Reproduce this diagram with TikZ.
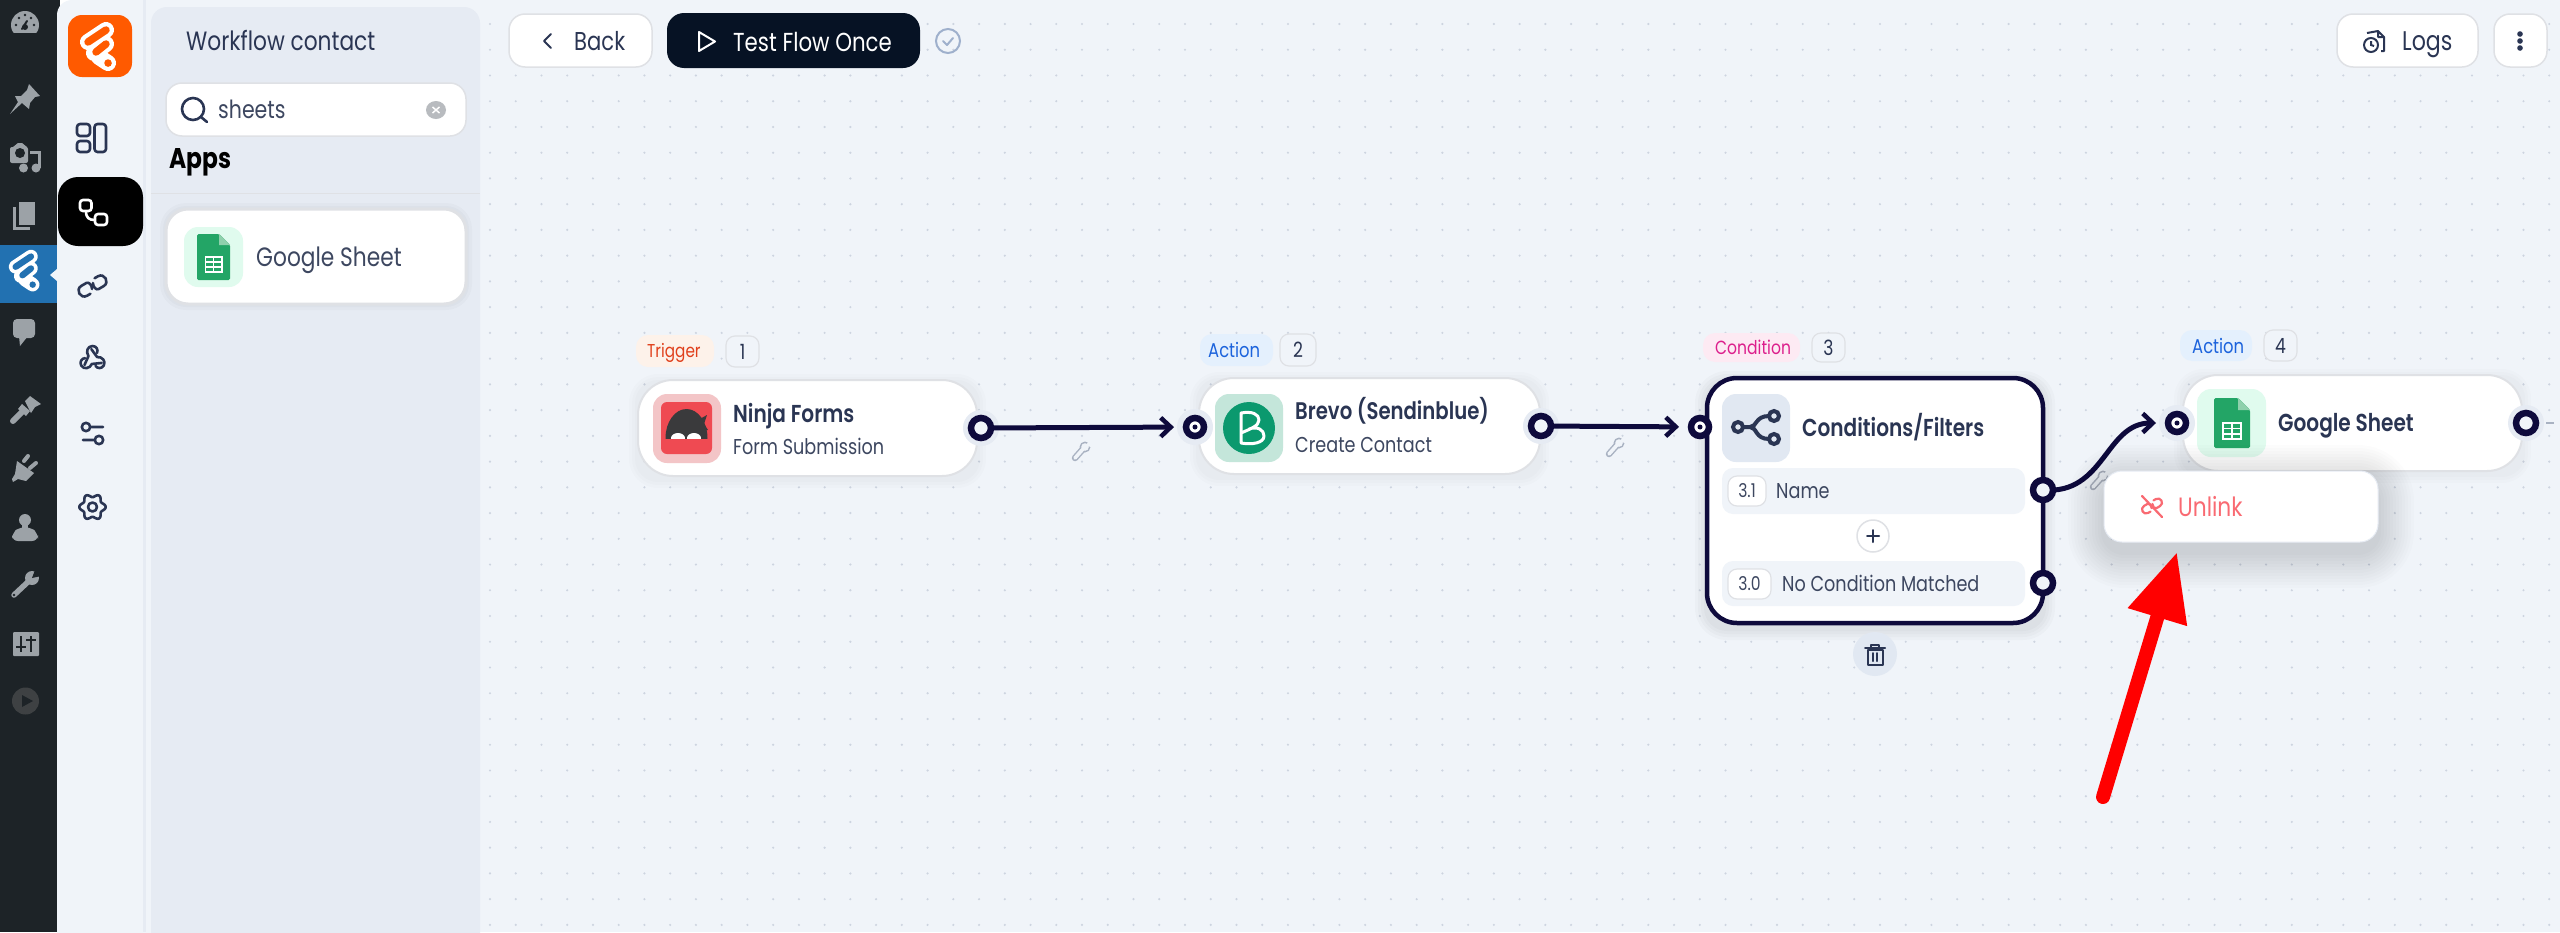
\documentclass[tikz,border=0pt]{standalone}
\usepackage{fontspec}
\setmainfont[FakeStretch=0.82]{Poppins}
\newfontfamily\semif[FakeStretch=0.82]{Poppins SemiBold}
\usetikzlibrary{arrows.meta,calc}
\definecolor{canvasbg}{HTML}{F0F4F9}
\definecolor{panelbg}{HTML}{E6EBF3}
\definecolor{sidedark}{HTML}{1D2327}
\definecolor{sideblue}{HTML}{2271B1}
\definecolor{sidegray}{HTML}{9CA2A7}
\definecolor{inkc}{HTML}{2A3553}
\definecolor{subc}{HTML}{3D4760}
\definecolor{edgec}{HTML}{0E0A3C}
\definecolor{borderc}{HTML}{DFE1E5}
\definecolor{dotc}{HTML}{CDD4E0}
\definecolor{orangec}{HTML}{FF5A00}
\definecolor{btnnavy}{HTML}{061224}
\definecolor{mintbg}{HTML}{E0FBEE}
\definecolor{sheetg}{HTML}{23A566}
\definecolor{sheetf}{HTML}{8FD0AC}
\definecolor{iconbg}{HTML}{E1E8F2}
\definecolor{unlinkc}{HTML}{F96A72}
\definecolor{tbg}{HTML}{FDF2EA}
\definecolor{tfg}{HTML}{E0401C}
\definecolor{abg}{HTML}{E4F0FD}
\definecolor{afg}{HTML}{1C63DC}
\definecolor{cbg}{HTML}{FDEAF3}
\definecolor{cfg}{HTML}{DC1F8C}
\definecolor{wrenchc}{HTML}{A9B2C2}
\definecolor{brevog}{HTML}{0B996E}
\definecolor{brevob}{HTML}{C4E6DA}
\definecolor{ninjab}{HTML}{F3C5C7}
\definecolor{ninjar}{HTML}{EF4A52}
\definecolor{ninjak}{HTML}{3A3A3C}
\definecolor{checkc}{HTML}{9FB0CC}
\tikzset{
  cardbox/.style={draw=borderc,line width=2pt,fill=white,rounded corners=35pt},
  selbox/.style={draw=edgec,line width=4.5pt,fill=white,rounded corners=30pt},
  btnbox/.style={draw=borderc,line width=1.5pt,fill=white,rounded corners=16pt},
  badgebox/.style={fill=#1,rounded corners=12pt},
  numbox/.style={draw=borderc,line width=1.2pt,fill=#1,rounded corners=9pt},
  tilebox/.style={fill=#1,rounded corners=14pt},
  rowbox/.style={fill=canvasbg,rounded corners=11pt},
  portout/.style={circle,draw=edgec,line width=6.5pt,fill=#1,minimum size=20pt,inner sep=0pt,outer sep=0pt},
  portin/.style={circle,draw=edgec,line width=6.5pt,fill=white,minimum size=18pt,inner sep=0pt,outer sep=0pt},
  halo/.style={circle,fill=panelbg,minimum size=36pt,inner sep=0pt,outer sep=0pt},
  edge/.style={draw=edgec,line width=5pt,line join=round,shorten >=21pt,-{Straight Barb[length=10pt,width=19pt,line width=4.5pt]}},
  icon/.style={draw=inkc,line width=2.6pt,line cap=round,line join=round},
  sidefill/.style={fill=sidegray},
}
\newcommand{\bx}[6]{\node[#6,minimum width={(#4-#2)*1pt},minimum height={(#5-#3)*1pt},inner sep=0pt,outer sep=0pt] (#1) at ({(#2+#4)/2},{(#3+#5)/2}) {};}
\newcommand{\tx}[6]{\node[anchor=base west,inner sep=0pt,text=#5,font=\fontsize{#4}{#4}\selectfont] (#1) at (#2,{#3+0.35*#4}) {#6};}
\newcommand{\softshadow}[7]{\foreach \i in {1,...,#6}{\fill[black,opacity=#7,rounded corners={(20+3*\i)*1pt}] ({#1-3*\i},{#2-3*\i+#5}) rectangle ({#3+3*\i},{#4+3*\i+#5});}}
\newcommand{\flogo}[4]{\begin{scope}[shift={(#1,#2)}]
  \draw[white,line cap=round,line width={16*#3 pt}] ({-11*#3},{-5*#3}) -- ({7*#3},{-17*#3}) ({-5*#3},{6*#3}) -- ({7*#3},{-3*#3}) ({0*#3},{10*#3}) -- ({9*#3},{16*#3});
  \draw[#4,line cap=round,line width={7.5*#3 pt}] ({-11*#3},{-5*#3}) -- ({7*#3},{-17*#3}) ({-3*#3},{5*#3}) -- ({7*#3},{-3*#3}) ({9*#3},{16*#3}) -- ({9.1*#3},{16.1*#3});
\end{scope}}
\newcommand{\sheeticon}[3]{\begin{scope}[shift={(#1,#2)},x=#3pt,y=-#3pt]
  \fill[sheetg,rounded corners=1.5pt] (0,0) -- (24,0) -- (36,12) -- (36,50) -- (0,50) -- cycle;
  \fill[sheetf] (24,0) -- (36,12) -- (24,12) -- cycle;
  \draw[white,line width={1.7*#3 pt}] (9,25) rectangle (27,41) (9,30.5) -- (27,30.5) (9,35.8) -- (27,35.8) (18,25) -- (18,41);
\end{scope}}
\newcommand{\wrenchicon}[2]{\begin{scope}[shift={(#1,#2)}]
  \draw[wrenchc,line width=6.5pt,line cap=round] (-6,7) -- (2,-2);
  \fill[wrenchc] (4,-4) circle[radius=5.5pt];
  \draw[canvasbg,line width=3.6pt,line cap=round] (-6,7) -- (2,-2);
  \fill[canvasbg] (4,-4) circle[radius=3.8pt];
  \fill[canvasbg] (4,-5) -- (9,-11) -- (11,-4) -- cycle;
\end{scope}}
% chain link, #1 #2 centre, #3 colour, #4 line width, #5 scale
\newcommand{\chain}[5]{\begin{scope}[shift={(#1,#2)},rotate=30,scale=#5]
  \foreach \a in {0,180}{\draw[#3,line width=#4pt,line cap=round,line join=round,rotate=\a] (-2,2.5) .. controls (0,-1) and (-1,-6) .. (-4,-6) -- (-10,-6) .. controls (-18,-6) and (-18,6) .. (-10,6) -- (-6,6);}
\end{scope}}
\begin{document}
\begin{tikzpicture}[x=1pt,y=-1pt]
\useasboundingbox (0,0) rectangle (2560,932);
% backgrounds
\fill[sidedark] (0,0) rectangle (60,932);
\fill[canvasbg,rounded corners=15pt] (57,0) rectangle (300,960);
\fill[canvasbg] (143,0) rectangle (2560,932);
\foreach \k in {0,...,80}{\foreach \j in {0,...,35}{\fill[dotc] ({490+25.74*\k},{24+25.74*\j}) circle[radius=1.2pt];}}
\fill[panelbg] (143,0) rectangle (146,932);
\fill[panelbg,rounded corners=16pt] (151,7) rectangle (480,960);
\draw[borderc,line width=1pt] (151,193) -- (480,193);
% wp sidebar
\fill[sideblue] (0,245) rectangle (57,303);
\fill[canvasbg] (50,275) -- (57,269) -- (57,281) -- cycle;
% gauge
\begin{scope}\clip (9,8) rectangle (41,32);
\fill[sidegray] (25,25) circle[radius=14pt];\end{scope}
\draw[sidedark,line width=2pt,line cap=round] (22,29) -- (27,21);
\fill[sidedark] (25,27) circle[radius=3pt];
\foreach \p in {(16,25),(19,18),(25,15),(31,18),(34,25)}{\fill[sidedark] \p circle[radius=1.3pt];}
% pin
\fill[sidegray] (29,84) -- (40,96) -- (35,97) -- (30,103) -- (29,109) -- (22,103) -- (10,114) -- (18,102) -- (15,96) -- (21,96) -- (27,90) -- cycle;
% media
\fill[sidegray,rounded corners=2pt] (10,147) -- (15,147) -- (16,143) -- (24,143) -- (25,147) -- (28,147) -- (28,163) -- (10,163) -- cycle;
\fill[sidedark] (20,153) circle[radius=5pt];
\fill[sidegray] (23.5,168) circle[radius=4.5pt] (36,168) circle[radius=4.5pt];
\fill[sidegray] (38,151) rectangle (40.5,168);
\fill[sidegray] (30,151) rectangle (40,154);
% pages
\fill[sidegray] (13,207) rectangle (30,230);
\fill[sidedark] (16,204) rectangle (38,227);
\fill[sidegray] (19,202) rectangle (35,225);
% logo active
\flogo{25}{271}{0.85}{sideblue}
% comment
\fill[sidegray,rounded corners=4pt] (13,319) rectangle (35,338);
\fill[sidegray] (19,336) -- (28,336) -- (20,346) -- cycle;
% brush
\draw[sidegray,line width=6pt,line cap=round] (13,421) -- (22,412);
\fill[sidegray] (22,404) -- (30,411) -- (26,416) -- (18,409) -- cycle;
\fill[sidegray] (25,401) -- (30,396) -- (41,404) -- (35,407) -- (31,413) -- cycle;
% plugin
\fill[sidegray] (17,461) -- (34,473) -- (26,481) -- (18,479) -- (13,482) -- (12,479) -- (15,474) -- cycle;
\draw[sidegray,line width=4pt,line cap=round] (24,461) -- (28,456) (30,468) -- (36,463);
% user
\fill[sidegray] (25,520) circle[radius=6pt];
\fill[sidegray] (22,520) rectangle (28,530);
\fill[sidegray,rounded corners=6pt] (12,541) -- (12,533) -- (20,527) -- (30,527) -- (38,533) -- (38,541) -- cycle;
% wrench
\draw[sidegray,line width=5.5pt,line cap=round] (14,595) -- (30,580);
\fill[sidegray] (32,578) circle[radius=7pt];
\fill[sidedark] (32,578) -- (35,570) -- (41,576) -- cycle;
\fill[sidedark] (14,595) circle[radius=1.3pt];
% sliders box
\fill[sidegray,rounded corners=1pt] (13,632) rectangle (39,656);
\draw[sidedark,line width=2pt] (21,636) -- (21,652) (16,647) -- (26,647) (31,636) -- (31,652) (26,640) -- (36,640);
% play
\fill[black!20!gray!45!sidedark] (25.5,701) circle[radius=13.5pt];
\fill[sidedark] (22,695) -- (33,701) -- (22,707) -- cycle;
% nav
\bx{logotile}{68}{15}{132}{77}{tilebox=orangec}
\flogo{99}{47}{1}{orangec}
\draw[icon,rounded corners=3pt] (77,124) rectangle (90,136) (77,141) rectangle (90,152) (94.5,124) rectangle (106,152);
\bx{navactive}{58}{177}{143}{246}{fill=black,rounded corners=20pt}
\draw[white,line width=2.6pt,rounded corners=3pt] (80,200) rectangle (91.5,211) (95,214) rectangle (107,225);
\draw[white,line width=2.6pt] (86,211) .. controls (86,218) and (89,220) .. (95,220);
\chain{92.5}{286}{inkc}{2.6}{0.95}
\begin{scope}[shift={(92.5,359)}]
\foreach \a in {0,120,240}{\draw[icon,rotate=\a] (-8,6) -- (-4,-3) .. controls (-7,-7) and (-5,-13) .. (0,-13) .. controls (4,-13) and (6,-9) .. (4.5,-6);}
\end{scope}
\draw[icon] (86,427) circle[radius=4.2pt] (91,427) -- (103,427) (99,440) circle[radius=4.2pt] (94,440) -- (83,440);
\draw[icon] plot[domain=0:360,samples=73,smooth cycle] ({92.5+(11.5+1.7*cos(6*\x))*cos(\x)},{507+(11.5+1.7*cos(6*\x))*sin(\x)});
\draw[icon] (92.5,507) circle[radius=4.5pt];
% panel
\tx{title}{186}{41}{26.5}{inkc}{Workflow contact}
\bx{search}{166}{83}{466}{136}{btnbox}
\draw[icon] (193,109) circle[radius=11pt] (201,117) -- (207,122);
\tx{searchtx}{218}{110}{25}{subc}{sheets}
\fill[gray!45!panelbg] (436,110) ellipse[x radius=10pt,y radius=9pt];
\draw[white,line width=1.5pt] (432.5,107) -- (439.5,113) (439.5,107) -- (432.5,113);
\tx{apps}{169}{159}{28.5}{black}{\bfseries Apps}
\softshadow{166}{209}{466}{304}{0}{2}{0.02}
\bx{appcard}{166}{209}{466}{304}{cardbox,rounded corners=22pt,line width=3pt}
\bx{appicon}{184}{227}{243}{287}{tilebox=mintbg}
\sheeticon{197}{234}{0.92}
\tx{apptx}{256}{257}{26.5}{subc}{Google Sheet}
% top buttons
\bx{backbtn}{509}{14}{652}{67}{btnbox}
\draw[inkc,line width=2pt,line cap=round,line join=round] (551,34) -- (544,41) -- (551,48);
\tx{backtx}{574}{41}{25.8}{inkc}{Back}
\bx{testbtn}{667}{13}{920}{68}{fill=btnnavy,rounded corners=17pt}
\draw[white,line width=2pt,line join=round] (699,32) -- (715,41.5) -- (699,51) -- cycle;
\tx{testtx}{733}{42}{26}{white}{Test Flow Once}
\draw[checkc,line width=2pt] (948,41) circle[radius=12pt];
\draw[checkc,line width=2pt,line cap=round,line join=round] (943,41) -- (947,45) -- (953,38);
\bx{logsbtn}{2337}{14}{2478}{67}{btnbox}
\draw[inkc,line width=2pt,line join=round] (2367,33) -- (2378,31) -- (2384,37) -- (2384,51) -- (2381,51) (2378,31) -- (2378,37) -- (2384,37);
\draw[inkc,line width=2pt] (2371,45) circle[radius=7pt] (2371,41) -- (2371,45) -- (2374,46);
\tx{logstx}{2402}{41}{27}{inkc}{Logs}
\bx{menubtn}{2494}{14}{2547}{67}{btnbox}
\fill[inkc] (2520,34) circle[radius=2.8pt] (2520,41) circle[radius=2.8pt] (2520,48) circle[radius=2.8pt];
% node shadows
\softshadow{638}{380}{977}{476}{3}{3}{0.012}
\softshadow{1199}{378}{1540}{474}{3}{3}{0.012}
\softshadow{1707}{378}{2043}{623}{5}{4}{0.018}
\softshadow{2183}{375}{2522}{471}{3}{3}{0.012}
% cards
\bx{nodeA}{638}{380}{977}{476}{cardbox}
\bx{nodeB}{1199}{378}{1540}{474}{cardbox}
\bx{nodeC}{1707}{378}{2043}{623}{selbox}
\bx{nodeD}{2183}{375}{2522}{471}{cardbox}
% badges
\bx{badgeT}{636}{335}{714}{367}{badgebox=tbg}
\tx{badgeTt}{647}{351}{18.6}{tfg}{Trigger}
\bx{numA}{726}{336}{759}{367}{numbox=canvasbg}
\node[text=inkc,font=\fontsize{21}{21}\selectfont,inner sep=0pt] (numAt) at (numA) {1};
\bx{badgeA}{1200}{334}{1273}{366}{badgebox=abg}
\tx{badgeAt}{1208}{350}{20}{afg}{Action}
\bx{numB}{1280}{334}{1316}{366}{numbox=canvasbg}
\node[text=inkc,font=\fontsize{21}{21}\selectfont,inner sep=0pt] (numBt) at (numB) {2};
\bx{badgeC}{1703}{333}{1800}{362}{badgebox=cbg}
\tx{badgeCt}{1715}{348}{19}{cfg}{Condition}
\bx{numC}{1812}{333}{1845}{362}{numbox=canvasbg}
\node[text=inkc,font=\fontsize{21}{21}\selectfont,inner sep=0pt] (numCt) at (numC) {3};
\bx{badgeD}{2180}{330}{2252}{361}{badgebox=abg}
\tx{badgeDt}{2192}{346}{20}{afg}{Action}
\bx{numD}{2264}{330}{2297}{361}{numbox=canvasbg}
\node[text=inkc,font=\fontsize{21}{21}\selectfont,inner sep=0pt] (numDt) at (numD) {4};
% node A content
\bx{iconA}{653}{394}{721}{463}{tilebox=ninjab}
\bx{iconAin}{661}{402}{712}{454}{fill=ninjar,rounded corners=6pt}
\begin{scope}\clip (660,400) rectangle (712,438);
\fill[ninjak] (686.5,438) ellipse[x radius=21pt,y radius=29pt];
\fill[white] (678,438) ellipse[x radius=7pt,y radius=5pt] (694,438) ellipse[x radius=7pt,y radius=5pt];
\end{scope}
\fill[ninjak] (698,420) -- (707,415) -- (704,424) -- (708,430) -- (699,430) -- cycle;
\tx{nameA}{733}{414}{24.5}{inkc}{\semif Ninja Forms}
\tx{subA}{733}{447}{21.5}{subc}{Form Submission}
% node B content
\bx{iconB}{1215}{394}{1283}{462}{tilebox=brevob}
\fill[brevog] (1249,428) circle[radius=26pt];
\draw[white,line width=3pt,line join=round,line cap=round] (1241,443) -- (1241,413) .. controls (1252,411) and (1259,414) .. (1259,420) .. controls (1259,426) and (1250,429) .. (1241,433) (1249,429) .. controls (1258,426) and (1264,430) .. (1264,436) .. controls (1264,443) and (1252,445) .. (1241,443);
\tx{nameB}{1295}{411}{24}{inkc}{\semif Brevo (Sendinblue)}
\tx{subB}{1295}{445}{21.5}{subc}{Create Contact}
% node C content
\bx{iconC}{1722}{394}{1790}{462}{tilebox=iconbg}
\draw[inkc,line width=4pt] (1738,427) circle[radius=5pt] (1774,416) circle[radius=5pt] (1774,439) circle[radius=5pt];
\draw[inkc,line width=4pt] (1743,427) -- (1750,427) (1769,416) .. controls (1755,416) and (1757,427) .. (1750,427) (1769,439) .. controls (1755,439) and (1757,427) .. (1750,427);
\tx{nameC}{1802}{428}{24.5}{inkc}{\semif Conditions/Filters}
\bx{rowA}{1722}{468}{2025}{514}{rowbox}
\bx{rowAn}{1728}{476}{1766}{506}{numbox=white}
\node[text=subc,font=\fontsize{19}{19}\selectfont,inner sep=0pt] (rowAnt) at (rowAn) {3.1};
\tx{rowAt}{1776}{491}{21.5}{subc}{Name}
\node[circle,draw=borderc,line width=1.5pt,fill=white,minimum size=32pt,inner sep=0pt] (plusC) at (1873,536) {};
\draw[inkc,line width=2pt,line cap=round] (1867,536) -- (1879,536) (1873,530) -- (1873,542);
\bx{rowB}{1722}{561}{2025}{606}{rowbox}
\bx{rowBn}{1728}{569}{1771}{599}{numbox=white}
\node[text=subc,font=\fontsize{19}{19}\selectfont,inner sep=0pt] (rowBnt) at (rowBn) {3.0};
\tx{rowBt}{1782}{584}{21.5}{subc}{No Condition Matched}
\node[circle,fill=iconbg,minimum size=44pt,inner sep=0pt] (trashC) at (1875,654) {};
\draw[inkc,line width=2pt,line cap=round,line join=round] (1867.5,650) rectangle (1882.5,665) (1865,648) -- (1885,648) (1871,648) -- (1871,645) -- (1879,645) -- (1879,648) (1873,653) -- (1873,661) (1877,653) -- (1877,661);
% node D content
\bx{iconD}{2197}{389}{2266}{457}{tilebox=mintbg}
\sheeticon{2214}{398}{1}
\tx{nameD}{2278}{423}{24.5}{inkc}{\semif Google Sheet}
% halos
\node[halo] (hA) at (981,428) {};
\node[halo] (hB) at (1195,427) {};
\node[halo] (hC) at (1541,426) {};
\node[halo] (hE) at (2177,423) {};
\node[halo] (hF) at (2526,423) {};
% wrenches
\wrenchicon{1081}{451}
\wrenchicon{1615}{447}
\wrenchicon{2099}{480}
% ports and connectors
\coordinate (pAo) at (981,428);
\coordinate (pBi) at (1195,427);
\coordinate (pBo) at (1541,426);
\coordinate (pCi) at (1700,427);
\coordinate (pC1) at (2043,490);
\coordinate (pDi) at (2177,423);
\draw[edge] (pAo) -- (pBi);
\draw[edge] (pBo) -- (pCi);
\draw[edge] (pC1) .. controls (2105,495) and (2105,423) .. (pDi);
\node[portout=canvasbg] (outA) at (pAo) {};
\node[portin] (inB) at (pBi) {};
\fill[edgec] (inB) circle[radius=2.5pt];
\node[portout=canvasbg] (outB) at (pBo) {};
\node[portin] (inC) at (pCi) {};
\fill[edgec] (inC) circle[radius=2.5pt];
\node[portout=canvasbg] (outC1) at (pC1) {};
\node[portout=canvasbg] (outC2) at (2043,583) {};
\node[portin] (inD) at (pDi) {};
\fill[edgec] (inD) circle[radius=2.5pt];
\node[portout=canvasbg] (outD) at (2526,423) {};
\draw[wrenchc,line width=2.5pt] (2546,423) -- (2554,423);
% popup
\softshadow{2104}{471}{2378}{542}{10}{12}{0.011}
\bx{popup}{2104}{471}{2378}{542}{draw=panelbg,line width=1pt,fill=white,rounded corners=18pt}
\chain{2152}{506}{unlinkc}{2.2}{0.68}
\draw[unlinkc,line width=2.2pt,line cap=round] (2142,496) -- (2162,517);
\tx{unlinktx}{2178}{507}{26.5}{unlinkc}{Unlink}
% red arrow
\coordinate (redtail) at (2103,797);
\coordinate (redtip) at (2177,552);
\draw[red,line width=14pt,line cap=round,-{Triangle[length=68pt,width=58pt]}] (redtail) -- (redtip);
\end{tikzpicture}
\end{document}
